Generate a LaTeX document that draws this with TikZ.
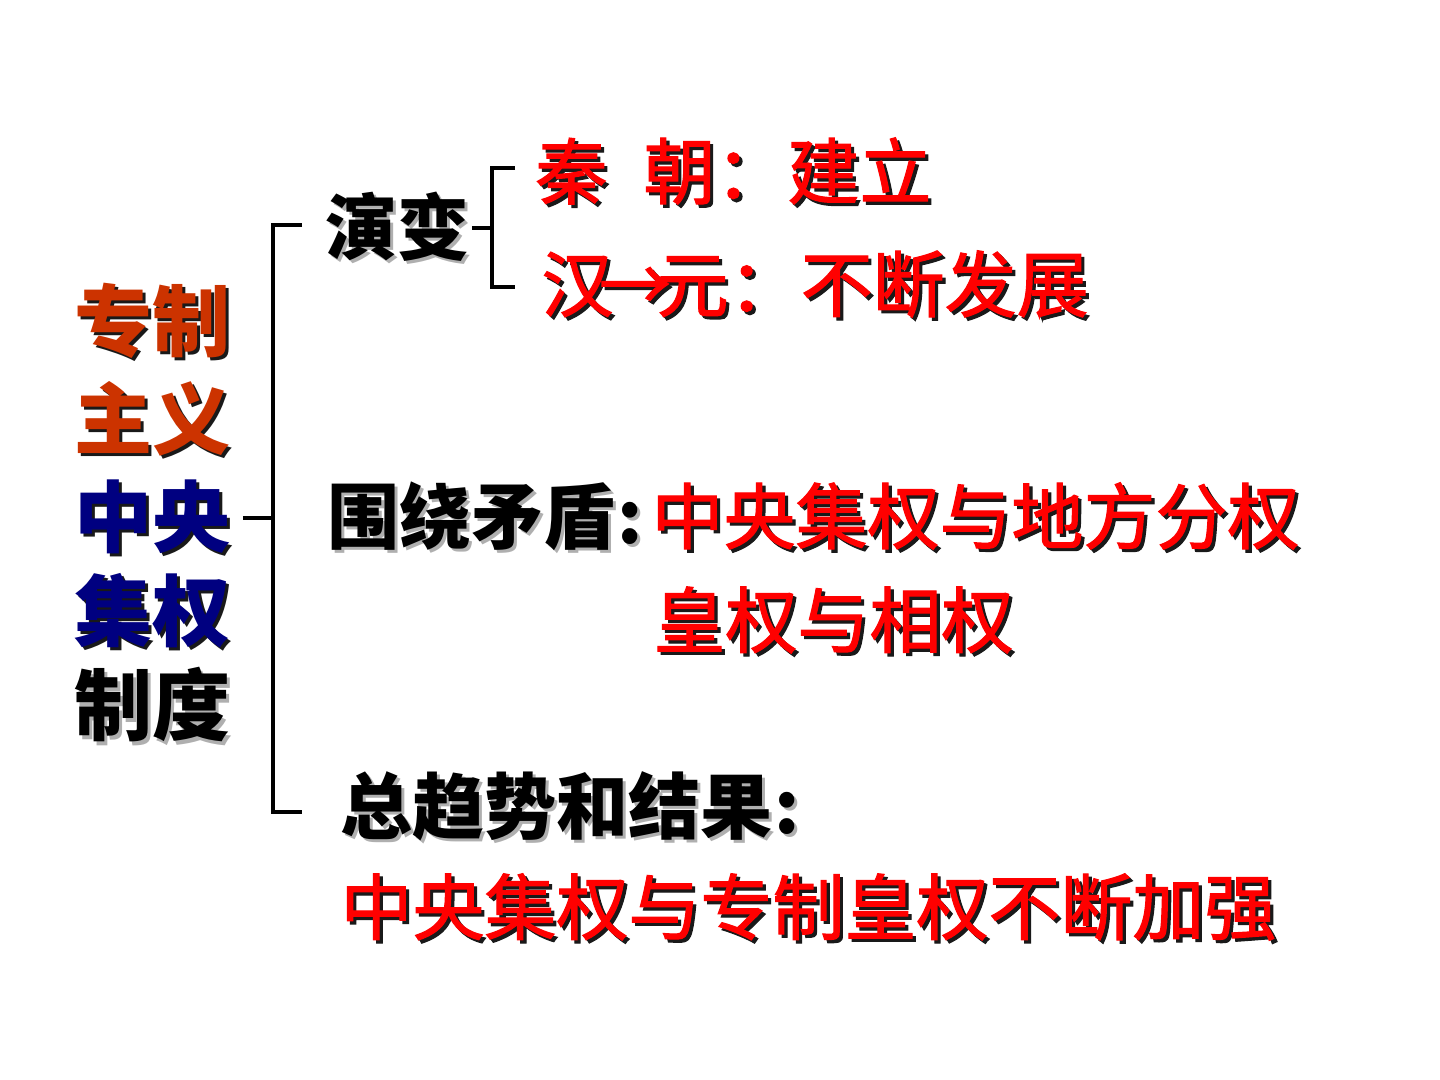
\documentclass[tikz,border=0pt]{standalone}
\usepackage{fontspec}
\usetikzlibrary{positioning}
\newfontfamily\cjk{Noto Sans CJK SC}
\newfontfamily\cjkred{Noto Sans CJK SC}[FakeBold=1.5]

\definecolor{zred}{RGB}{255,0,0}
\definecolor{zorange}{RGB}{204,51,0}
\definecolor{znavy}{RGB}{0,0,128}
\definecolor{zshade}{RGB}{25,25,25}
\definecolor{zgray}{RGB}{175,175,175}

\tikzset{
  txt/.style={inner sep=0pt, anchor=west, font=\cjk\bfseries\fontsize{36}{43}\selectfont},
  redtxt/.style={txt, font=\cjkred\fontsize{36}{43}\selectfont, text=zred},
  bigtxt/.style={txt, font=\cjk\bfseries\fontsize{39}{47}\selectfont},
  bline/.style={line width=1.6pt},
}

% text with a drop shadow: name, placement, style, shadow colour, text
\newcommand\shtext[5]{%
  \node[#3, #2, text=#4, xshift=1.6pt, yshift=-1.6pt] {#5};
  \node[#3, #2] (#1) {#5};}

\begin{document}
\begin{tikzpicture}[x=0.5pt, y=-0.5pt]
    \useasboundingbox (0,0) rectangle (1440,1080);

    % Left column
    \shtext{zz}{at={(74,321)}}{bigtxt, text=zorange}{zshade}{专制}
    \shtext{zy}{at={(74,419)}}{bigtxt, text=zorange}{zshade}{主义}
    \shtext{zy2}{at={(74,517)}}{bigtxt, text=znavy}{zshade}{中央}
    \shtext{jq}{at={(74,611)}}{bigtxt, text=znavy}{zshade}{集权}
    \shtext{zd}{at={(74,705)}}{bigtxt}{zgray}{制度}

    % Branches
    \shtext{yb}{at={(325,227)}}{txt}{zgray}{演变}
    \shtext{qin}{at={(535,171)}}{redtxt}{zshade}{秦\hspace{0.5em}朝：建立}
    \shtext{han}{at={(541,284)}}{redtxt}{zshade}{汉\kern-0.2em→\kern-0.2em元：不断发展}
    \shtext{wr}{at={(327,516)}}{txt}{zgray}{围绕矛盾\kern1pt:}
    \shtext{df}{right=4pt of wr}{redtxt}{zshade}{中央集权与地方分权}
    \shtext{hq}{at={(653,620)}}{redtxt}{zshade}{皇权与相权}
    \shtext{qs}{at={(340,806)}}{txt}{zgray}{总趋势和结果\kern1pt:}
    \shtext{jg}{at={(340,907)}}{redtxt}{zshade}{中央集权与专制皇权不断加强}

    % Brackets
    \coordinate (bigtop) at (302,225);
    \coordinate (bigmid) at (273,518);
    \coordinate (bigbot) at (302,812);
    \draw[bline] (bigtop) -| (bigmid) |- (bigbot);
    \draw[bline] ([xshift=6pt]bigmid -| zy2.east) -- (bigmid);

    \coordinate (smtop) at (515,168);
    \coordinate (smmid) at (492,228);
    \coordinate (smbot) at (515,287);
    \draw[bline] (smtop) -| (smmid) |- (smbot);
    \draw[bline] ([xshift=1pt]smmid -| yb.east) -- (smmid);
\end{tikzpicture}
\end{document}
